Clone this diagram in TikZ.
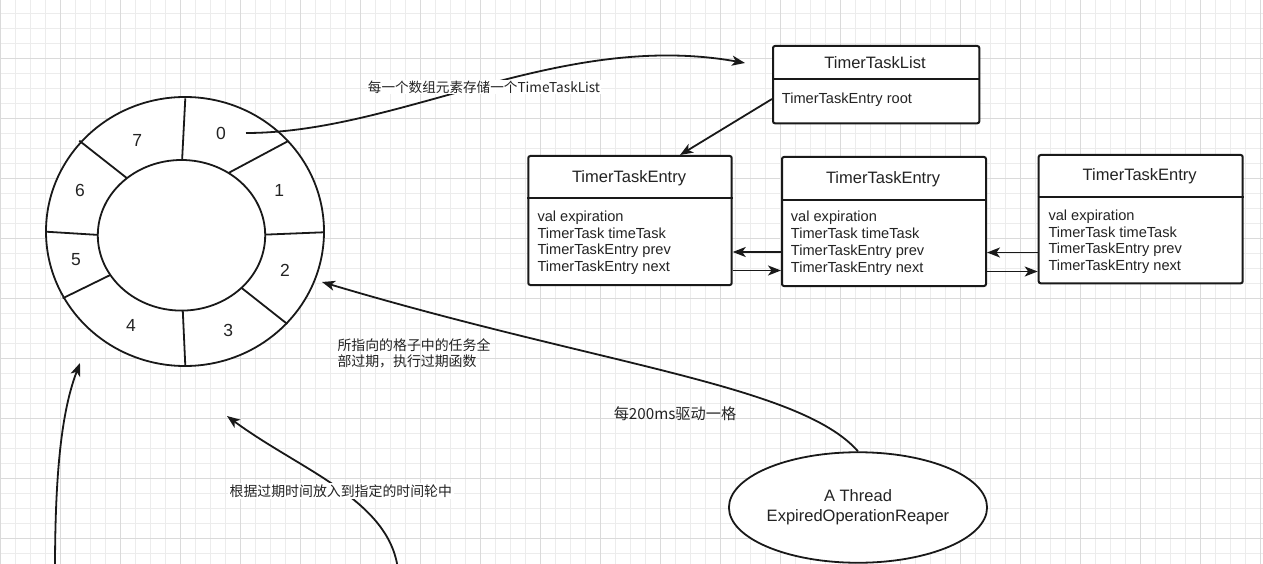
\documentclass[tikz,border=0pt]{standalone}
\usepackage{fontspec}
\setmainfont{Liberation Sans}
\newfontfamily\cjk{Noto Sans CJK SC}
\usetikzlibrary{shapes.geometric,arrows.meta}
\definecolor{ink}{RGB}{25,25,25}
\definecolor{txt}{RGB}{35,35,35}
\definecolor{gridminor}{RGB}{236,236,236}
\definecolor{gridmajor}{RGB}{218,218,218}
\begin{document}
\begin{tikzpicture}[x=1pt,y=-1pt,
  arr/.style={draw=ink, line width=1.8pt, -{Stealth[length=13pt,width=10pt,inset=3.5pt]}},
  ringline/.style={draw=ink, line width=1.8pt},
  gminor/.style={draw=gridminor, line width=0.8pt},
  gmajor/.style={draw=gridmajor, line width=0.9pt},
  box/.style={draw=ink, line width=2pt, fill=white, rounded corners=2pt, inner sep=0pt, anchor=north west},
  boxdiv/.style={draw=ink, line width=2pt},
  hdr/.style={font=\fontsize{16.5}{19}\selectfont, text=txt, inner sep=0pt},
  body/.style={font=\fontsize{14.6}{16.7}\selectfont, text=txt, anchor=base west, inner sep=0pt},
  cell/.style={font=\fontsize{17.5}{20}\selectfont, text=txt, inner sep=0pt},
  cjklab/.style={font=\cjk\fontsize{13.9}{16.7}\selectfont, text=txt},
  ring/.style={ellipse, draw=ink, line width=1.8pt, fill=white, inner sep=0pt}
]
\useasboundingbox (0,0) rectangle (1263,564);
\fill[white] (0,0) rectangle (1263,564);
% grid
\foreach \i in {0,...,84} \draw[gminor] ({0.7+15*\i},0) -- ({0.7+15*\i},564);
\foreach \j in {1,...,38} \draw[gminor] (0,{-1.7+15*\j}) -- (1263,{-1.7+15*\j});
\foreach \i in {0,...,21} \draw[gmajor] ({0.7+60*\i},0) -- ({0.7+60*\i},564);
\foreach \j in {1,...,9} \draw[gmajor] (0,{-1.7+60*\j}) -- (1263,{-1.7+60*\j});

% ring
\node[ring, minimum width=278pt, minimum height=269pt] (outer) at (185,231.5) {};
\draw[ringline] (185.3,98.3) -- (182,162);
\draw[ringline] (288.3,141) -- (229,172.7);
\draw[ringline] (323.3,232.3) -- (263.3,234.7);
\draw[ringline] (287.3,324) -- (241.3,287.7);
\draw[ringline] (182.7,308.7) -- (185.3,365.7);
\draw[ringline] (110.3,275) -- (62.7,298.3);
\draw[ringline] (46,231.7) -- (99.7,235);
\draw[ringline] (79.3,140.7) -- (127,178.2);
\node[ring, minimum width=167.4pt, minimum height=150.6pt] (inner) at (181.5,235.3) {};
\node[cell] (c0) at (221,133.3) {0};
\node[cell] (c1) at (279.3,190) {1};
\node[cell] (c2) at (285,270) {2};
\node[cell] (c3) at (228.3,330) {3};
\node[cell] (c4) at (131,325) {4};
\node[cell] (c5) at (76,260) {5};
\node[cell] (c6) at (80,190) {6};
\node[cell] (c7) at (137.3,140.7) {7};

% TimerTaskList
\node[box, minimum width=206.3pt, minimum height=77.3pt] (list) at (772,45) {};
\draw[boxdiv] (list.west |- 0,79) -- (list.east |- 0,79);
\node[hdr] (listh) at (875,62.7) {TimerTaskList};
\node[body] (listr) at (781.7,104) {TimerTaskEntry root};

% entries
\node[box, minimum width=203.4pt, minimum height=129pt] (e1) at (527.3,155) {};
\draw[boxdiv] (e1.west |- 0,198.3) -- (e1.east |- 0,198.3);
\node[hdr] (e1h) at (629,178) {TimerTaskEntry};
\node[body] (e1a) at (537.3,221.4) {val expiration};
\node[body] (e1b) at (537.3,238) {TimerTask timeTask};
\node[body] (e1c) at (537.3,254.7) {TimerTaskEntry prev};
\node[body] (e1d) at (537.3,271.4) {TimerTaskEntry next};

\node[box, minimum width=204pt, minimum height=129pt] (e2) at (781,156) {};
\draw[boxdiv] (e2.west |- 0,200) -- (e2.east |- 0,200);
\node[hdr] (e2h) at (883,179) {TimerTaskEntry};
\node[body] (e2a) at (790.7,222) {val expiration};
\node[body] (e2b) at (790.7,238.7) {TimerTask timeTask};
\node[body] (e2c) at (790.7,255.4) {TimerTaskEntry prev};
\node[body] (e2d) at (790.7,272) {TimerTaskEntry next};

\node[box, minimum width=204pt, minimum height=128.3pt] (e3) at (1037.7,154) {};
\draw[boxdiv] (e3.west |- 0,197.3) -- (e3.east |- 0,197.3);
\node[hdr] (e3h) at (1139.7,176.7) {TimerTaskEntry};
\node[body] (e3a) at (1048.3,220.4) {val expiration};
\node[body] (e3b) at (1048.3,237) {TimerTask timeTask};
\node[body] (e3c) at (1048.3,253.7) {TimerTaskEntry prev};
\node[body] (e3d) at (1048.3,270.4) {TimerTaskEntry next};

% links between entries
\draw[arr] (e2.west |- 0,252) -- (e1.east |- 0,252);
\draw[arr] (e1.east |- 0,270.5) -- (e2.west |- 0,270.5);
\draw[arr] (e3.west |- 0,252.5) -- (e2.east |- 0,252.5);
\draw[arr] (e2.east |- 0,271.5) -- (e3.west |- 0,271.5);
\draw[arr] (list.west |- 0,99) -- (680,0 |- e1.north);

% array element -> list
\coordinate (a0) at (246,133);
\coordinate (listin) at (745,63);
\draw[arr] (a0) .. controls (400,133) and (560,30) .. (listin);
\node[cjklab, fill=white, inner sep=1pt, font=\cjk\fontsize{13.6}{16.7}\selectfont] (lab1) at (484,87) {每一个数组元素存储一个TimeTaskList};

% reaper
\node[ellipse, draw=ink, line width=1.8pt, fill=white, minimum width=254pt, minimum height=110.5pt, inner sep=0pt,
      align=center, font=\fontsize{16.5}{20}\selectfont, text=txt] (reaper) at (858,507.5) {A Thread\\ExpiredOperationReaper};
\coordinate (t2) at (322,282);
\draw[arr] (reaper.north) .. controls (800,385) and (600,365) .. (t2);
\node[cjklab, anchor=west, align=left, inner sep=0pt] (lab2) at (337.3,353.3) {所指向的格子中的任务全\\部过期，执行过期函数};
\node[cjklab, font=\cjk\fontsize{15.2}{17}\selectfont] (lab3) at (675,414) {每200ms驱动一格};

% bottom arrows
\coordinate (b1) at (55,570);
\coordinate (b1t) at (80,363);
\draw[arr] (b1) .. controls (55,470) and (62,410) .. (b1t);
\coordinate (b2) at (398,570);
\coordinate (b2t) at (227,416);
\draw[arr] (b2) .. controls (390,500) and (300,470) .. (b2t);
\node[cjklab, fill=white, inner sep=1.5pt] (lab4) at (340.8,491) {根据过期时间放入到指定的时间轮中};
\end{tikzpicture}
\end{document}
